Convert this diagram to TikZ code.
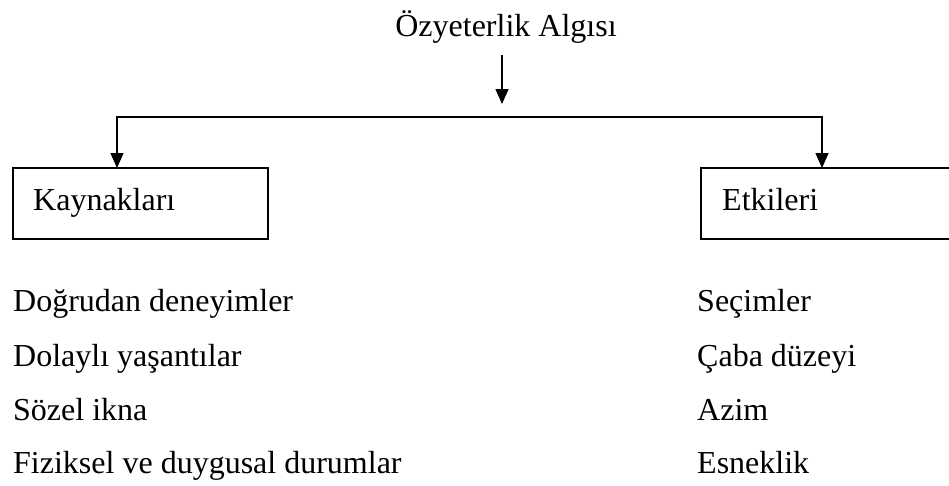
\documentclass[tikz,border=0pt]{standalone}
\usepackage{fontspec}
\setmainfont{Liberation Serif}
\usetikzlibrary{arrows.meta}
\begin{document}
\begin{tikzpicture}[x=1pt,y=-1pt,
  txt/.style={inner sep=0pt,anchor=base west,font=\fontsize{32}{36}\selectfont},
  conn/.style={line width=1.2pt},
  arr/.style={conn,-{Triangle[length=15pt,width=13pt]}},
  box/.style={line width=1.2pt}]
  \useasboundingbox (0,0) rectangle (949,485);
  \clip (0,0) rectangle (949,485);

  % heading and its arrow
  \node[txt,anchor=base] (title) at (506,36) {Özyeterlik Algısı};
  \coordinate (top) at (502,55);
  \coordinate (tip) at (502,104);
  \draw[arr] (top) -- (tip);

  % the two boxes
  \draw[box] (13,168) rectangle (268,239);
  \draw[box] (701,168) rectangle (960,239);
  \coordinate (boxL) at (117,168);
  \coordinate (boxR) at (822,168);
  \node[txt] (kay) at (33,210) {Kaynakları};
  \node[txt] (etk) at (722,210) {Etkileri};

  % branch line
  \coordinate (split) at (502,117);
  \draw[arr] (split) -| (boxL);
  \draw[arr] (split) -| (boxR);

  % sources
  \node[txt] (s1) at (13,311) {Doğrudan deneyimler};
  \node[txt] (s2) at (13,366) {Dolaylı yaşantılar};
  \node[txt] (s3) at (13,420) {Sözel ikna};
  \node[txt] (s4) at (13,473) {Fiziksel ve duygusal durumlar};

  % effects
  \node[txt] (e1) at (697,311) {Seçimler};
  \node[txt] (e2) at (697,366) {Çaba düzeyi};
  \node[txt] (e3) at (697,420) {Azim};
  \node[txt] (e4) at (697,473) {Esneklik};
\end{tikzpicture}
\end{document}
